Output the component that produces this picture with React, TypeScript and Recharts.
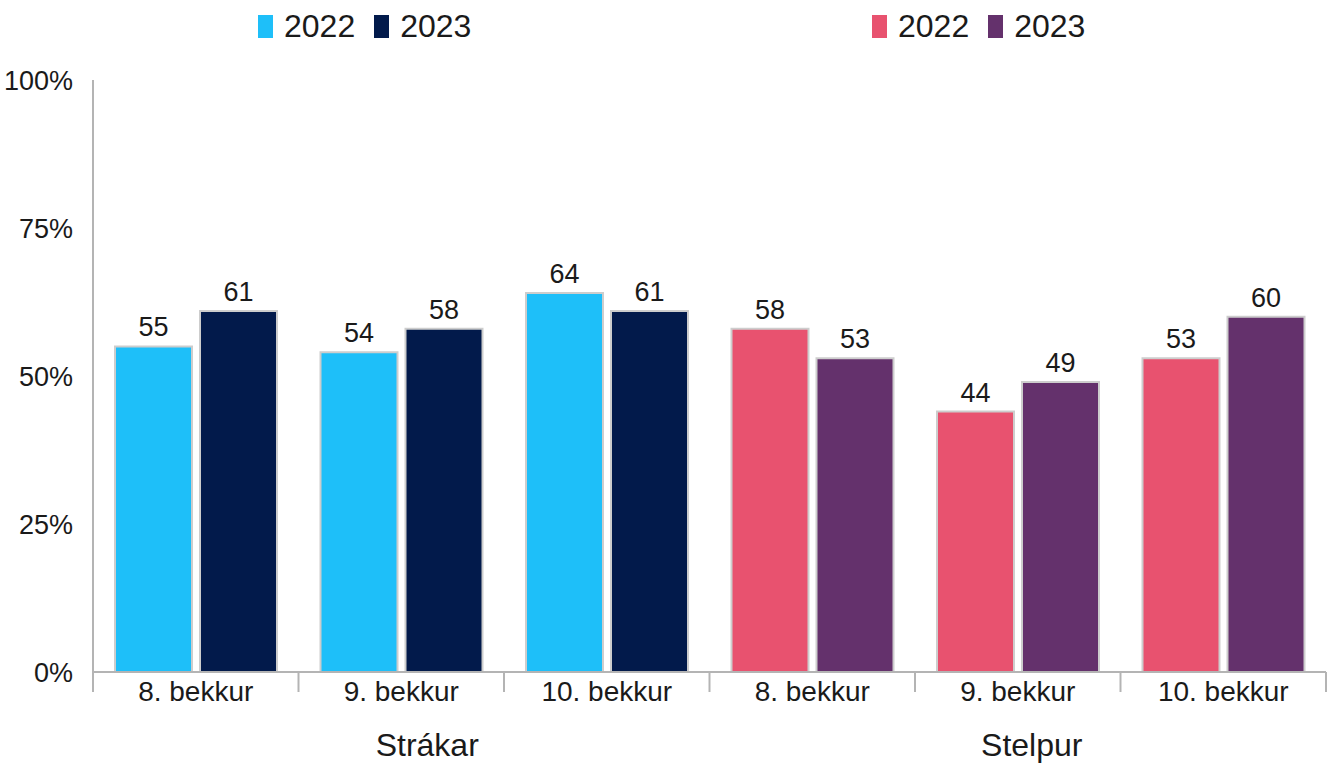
import React from "react";
import {
  BarChart,
  Bar,
  XAxis,
  YAxis,
  Legend,
  LabelList,
  Cell,
} from "recharts";

// grades and groups (boys first, then girls)
const grades = ["8. bekkur", "9. bekkur", "10. bekkur", "8. bekkur", "9. bekkur", "10. bekkur"];
const groups = ["Strákar", "Strákar", "Strákar", "Stelpur", "Stelpur", "Stelpur"];
const values2022 = [55, 54, 64, 58, 44, 53];
const values2023 = [61, 58, 61, 53, 49, 60];
const years = ["2022", "2023"];
const yTicks = [0, 25, 50, 75, 100];

const boysColors = ["#1EBFF9", "#021A4B"];
const girlsColors = ["#E8526F", "#64316C"];

const chartData = grades.map((grade, i) => ({
  key: i,
  grade,
  group: groups[i],
  y2022: values2022[i],
  y2023: values2023[i],
}));

const W = 1340;
const H = 765;
const LEGEND_H = 60;
// legend sits inside the top margin, so plot top = 20 + 60 = 80
const margin = { top: 20, right: 14, bottom: 0, left: 0 };
const yAxisWidth = 93;
const bandWidth = (W - margin.right - yAxisWidth) / grades.length;

const FONT = '"Liberation Sans", Arial, sans-serif';
const AXIS_GRAY = "#b4b4b4";

const GradeTick = ({ x, y, payload, index }: any) => {
  const left = x - bandWidth / 2;
  const right = x + bandWidth / 2;
  return (
    <g>
      <line x1={left} y1={y} x2={left} y2={y + 20} stroke={AXIS_GRAY} strokeWidth={2} />
      {index === grades.length - 1 && (
        <line x1={right} y1={y} x2={right} y2={y + 20} stroke={AXIS_GRAY} strokeWidth={2} />
      )}
      <text x={x} y={y + 29} textAnchor="middle" fontSize={28} fill="#1a1a1a" fontFamily={FONT}>
        {grades[payload.value]}
      </text>
    </g>
  );
};

const GroupTick = ({ x, y, payload, index }: any) => (
  <text
    x={x + (index === 0 ? 26 : 14)}
    y={y + 44}
    textAnchor="middle"
    fontSize={32}
    fill="#1a1a1a"
    fontFamily={FONT}
  >
    {payload.value}
  </text>
);

const LegendGroup = ({ colors, left }: { colors: string[]; left: number }) => (
  <div style={{ position: "absolute", left, top: 12, display: "flex", alignItems: "center" }}>
    {years.map((yr, i) => (
      <div key={yr} style={{ display: "flex", alignItems: "center", marginRight: 19 }}>
        <span
          style={{
            display: "inline-block",
            width: 15,
            height: 23,
            background: colors[i],
            marginRight: 11,
          }}
        />
        <span style={{ fontSize: 32, lineHeight: "28px", color: "#1a1a1a", fontFamily: FONT }}>{yr}</span>
      </div>
    ))}
  </div>
);

const CustomLegend = () => (
  <div style={{ position: "relative", width: W, height: LEGEND_H }}>
    <LegendGroup colors={boysColors} left={258} />
    <LegendGroup colors={girlsColors} left={872} />
  </div>
);

const App: React.FC = () => {
  return (
    <div style={{ position: "absolute", left: 0, top: 0, background: "#fff" }}>
      <BarChart
        width={W}
        height={H}
        data={chartData}
        margin={margin}
        barCategoryGap={22}
        barGap={8}
      >
        <XAxis
          dataKey="key"
          height={40}
          tickSize={0}
          tickMargin={0}
          tick={<GradeTick />}
          interval={0}
          axisLine={{ stroke: AXIS_GRAY, strokeWidth: 2 }}
          tickLine={false}
        />
        <XAxis
          xAxisId="group"
          dataKey="group"
          allowDuplicatedCategory={false}
          height={53}
          tickSize={0}
          tickMargin={0}
          tick={<GroupTick />}
          axisLine={false}
          tickLine={false}
          interval={0}
        />
        <YAxis
          width={yAxisWidth}
          domain={[0, 100]}
          ticks={yTicks}
          tickFormatter={(v: number) => `${v}%`}
          tick={{ fontSize: 27, fill: "#1a1a1a", fontFamily: FONT }}
          tickLine={false}
          tickMargin={14}
          axisLine={{ stroke: AXIS_GRAY, strokeWidth: 2 }}
        />
        <Legend
          verticalAlign="top"
          height={LEGEND_H}
          wrapperStyle={{ top: 0, left: 0, width: W }}
          content={<CustomLegend />}
        />
        <Bar dataKey="y2022" isAnimationActive={false} stroke="#cdcdcd" strokeWidth={2}>
          {chartData.map((d, i) => (
            <Cell key={i} fill={i < 3 ? boysColors[0] : girlsColors[0]} />
          ))}
          <LabelList dataKey="y2022" position="top" offset={10} fontSize={27} fill="#1a1a1a" fontFamily={FONT} />
        </Bar>
        <Bar dataKey="y2023" isAnimationActive={false} stroke="#cdcdcd" strokeWidth={2}>
          {chartData.map((d, i) => (
            <Cell key={i} fill={i < 3 ? boysColors[1] : girlsColors[1]} />
          ))}
          <LabelList dataKey="y2023" position="top" offset={10} fontSize={27} fill="#1a1a1a" fontFamily={FONT} />
        </Bar>
      </BarChart>
    </div>
  );
};

export default App;
